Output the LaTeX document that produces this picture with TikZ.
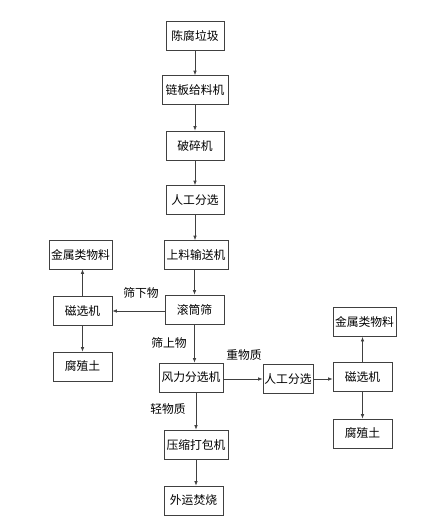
\documentclass[tikz,border=0pt]{standalone}
\usepackage{fontspec}
\setmainfont{Noto Sans CJK SC}
\usetikzlibrary{arrows.meta}
\begin{document}
\begin{tikzpicture}[x=1pt,y=-1pt,
  box/.style={draw=black!75,line width=0.7pt,fill=white,inner sep=0pt,
    minimum width=#1,minimum height=29pt,font=\fontsize{11.8}{13}\selectfont},
  box/.default=59pt,
  lbl/.style={inner sep=0pt,font=\fontsize{11.8}{13}\selectfont},
  arr/.style={draw=black!75,line width=0.7pt,-{Latex[length=4.5pt,width=3.6pt]}}]
\useasboundingbox (0,0) rectangle (428,531);
\node[box=58pt] (n1) at (195,35.5) {陈腐垃圾};
\node[box=66pt] (n2) at (195,90) {链板给料机};
\node[box=58pt] (n3) at (195,145.5) {破碎机};
\node[box=58pt] (n4) at (195,200) {人工分选};
\node[box=64pt] (n5) at (196,255) {上料输送机};
\node[box=59pt] (n6) at (194.5,309.5) {滚筒筛};
\node[box=63pt] (lm) at (80.5,254.5) {金属类物料};
\node[box=59pt] (lc) at (82.5,311) {磁选机};
\node[box=59pt] (lf) at (82.5,366.5) {腐殖土};
\node[box=64pt] (n7) at (191,377.5) {风力分选机};
\node[box=50pt] (r1) at (288,379) {人工分选};
\node[box=59pt] (rc) at (362.5,377) {磁选机};
\node[box=63pt] (rm) at (364.5,322) {金属类物料};
\node[box=59pt] (rf) at (362.5,433.5) {腐殖土};
\node[box=64pt] (n8) at (196,444.5) {压缩打包机};
\node[box=59pt] (n9) at (193.5,500.5) {外运焚烧};
\node[lbl] (t1) at (141,293) {筛下物};
\node[lbl] (t2) at (169,343) {筛上物};
\node[lbl] (t3) at (244,355) {重物质};
\node[lbl] (t4) at (168,409) {轻物质};
\draw[arr] (n1.south) -- (n1.south |- n2.north);
\draw[arr] (n2.south) -- (n2.south |- n3.north);
\draw[arr] (n3.south) -- (n3.south |- n4.north);
\draw[arr] (n4.south) -- (n4.south |- n5.north);
\draw[arr] (n6.north |- n5.south) -- (n6.north);
\draw[arr] (n6.west |- lc) -- (lc.east);
\draw[arr] (lc.north) -- (lc.north |- lm.south);
\draw[arr] (lc.south) -- (lf.north);
\draw[arr] (n6.south) -- (n6.south |- n7.north);
\draw[arr] (n7.east |- r1) -- (r1.west);
\draw[arr] (r1.east) -- (r1.east -| rc.west);
\draw[arr] (rc.north) -- (rc.north |- rm.south);
\draw[arr] (rc.south) -- (rf.north);
\draw[arr] (n8.north |- n7.south) -- (n8.north);
\draw[arr] (n8.south) -- (n8.south |- n9.north);
\end{tikzpicture}
\end{document}
